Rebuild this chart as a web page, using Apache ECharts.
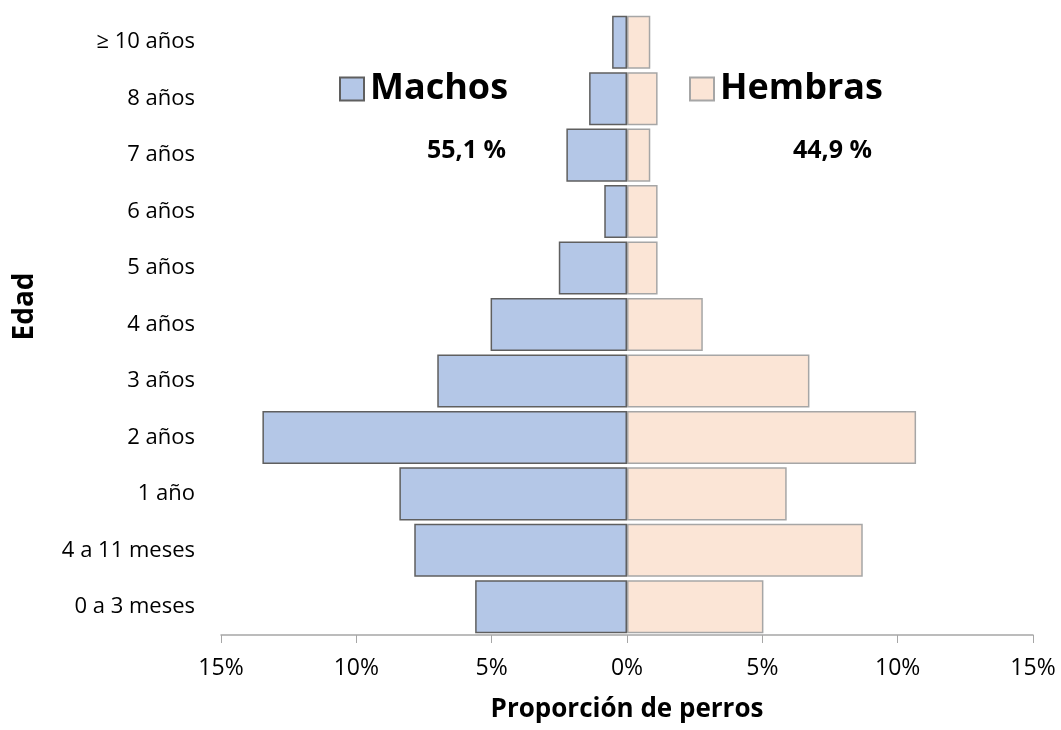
<!DOCTYPE html>
<html><head><meta charset="utf-8">
<script src="https://cdn.jsdelivr.net/npm/echarts@6/dist/echarts.min.js"></script>
<style>html,body{margin:0;padding:0;background:#fff}#c{width:1061px;height:730px}</style>
</head><body><div id="c"></div>
<script>
const categories = ['0 a 3 meses','4 a 11 meses','1 año','2 años','3 años','4 años','5 años','6 años','7 años','8 años','≥ 10 años'];
const machos = [5.61, 7.86, 8.41, 13.47, 7.01, 5.04, 2.52, 0.84, 2.24, 1.40, 0.55];
const hembras = [5.04, 8.71, 5.90, 10.68, 6.74, 2.80, 1.13, 1.13, 0.86, 1.13, 0.86];
const totals = { machos: '55,1 %', hembras: '44,9 %' };
const FONT = '"Open Sans", Lato, sans-serif';

const chart = echarts.init(document.getElementById('c'), null, {renderer:'canvas'});
chart.setOption({
  animation: false,
  grid: { left: 221, right: 28, top: 14, bottom: 95, containLabel: false },
  legend: [
    { data: ['Machos'], left: 334, top: 66, itemWidth: 24, itemHeight: 23, itemGap: 10,
      icon: 'rect', textStyle: { fontSize: 36, fontWeight: 'bold', color: '#000', fontFamily: FONT, padding: [0,0,0,1] } },
    { data: ['Hembras'], left: 684, top: 66, itemWidth: 24, itemHeight: 23, itemGap: 10,
      icon: 'rect', textStyle: { fontSize: 36, fontWeight: 'bold', color: '#000', fontFamily: FONT, padding: [0,0,0,1] } }
  ],
  graphic: [
    { type: 'text', x: 427, y: 151, style: { text: totals.machos, font: 'bold 25px ' + FONT, fill: '#000', verticalAlign: 'middle' } },
    { type: 'text', x: 793, y: 151, style: { text: totals.hembras, font: 'bold 25px ' + FONT, fill: '#000', verticalAlign: 'middle' } }
  ],
  xAxis: {
    type: 'value', min: -15, max: 15, interval: 5,
    name: 'Proporción de perros', nameLocation: 'middle', nameGap: 62,
    nameTextStyle: { fontSize: 26, fontWeight: 'bold', color: '#000', fontFamily: FONT },
    axisLine: { show: true, lineStyle: { color: '#a6a6a6', width: 1.5 } },
    axisTick: { show: true, length: 8, lineStyle: { color: '#a6a6a6' } },
    axisLabel: { formatter: v => Math.abs(v) + '%', fontSize: 23, color: '#000', margin: 22, fontFamily: FONT },
    splitLine: { show: false }
  },
  yAxis: {
    type: 'category', data: categories,
    name: 'Edad', nameLocation: 'middle', nameGap: 182, nameRotate: 90,
    nameTextStyle: { fontSize: 28, fontWeight: 'bold', color: '#000', fontFamily: FONT, padding: [0,0,0,36] },
    axisLine: { show: false }, axisTick: { show: false },
    axisLabel: { fontSize: 22, color: '#000', margin: 26, fontFamily: FONT }
  },
  series: [
    { name: 'Hembras', type: 'bar', data: hembras, barCategoryGap: '6%', barGap: '-100%',
      itemStyle: { color: '#fbe5d6', borderColor: '#a6a6a6', borderWidth: 1.5 } },
    { name: 'Machos', type: 'bar', data: machos.map(v => -v), barCategoryGap: '6%', barGap: '-100%',
      itemStyle: { color: '#b4c7e7', borderColor: '#5f5f5f', borderWidth: 1.5 } }
  ]
});
</script></body></html>
